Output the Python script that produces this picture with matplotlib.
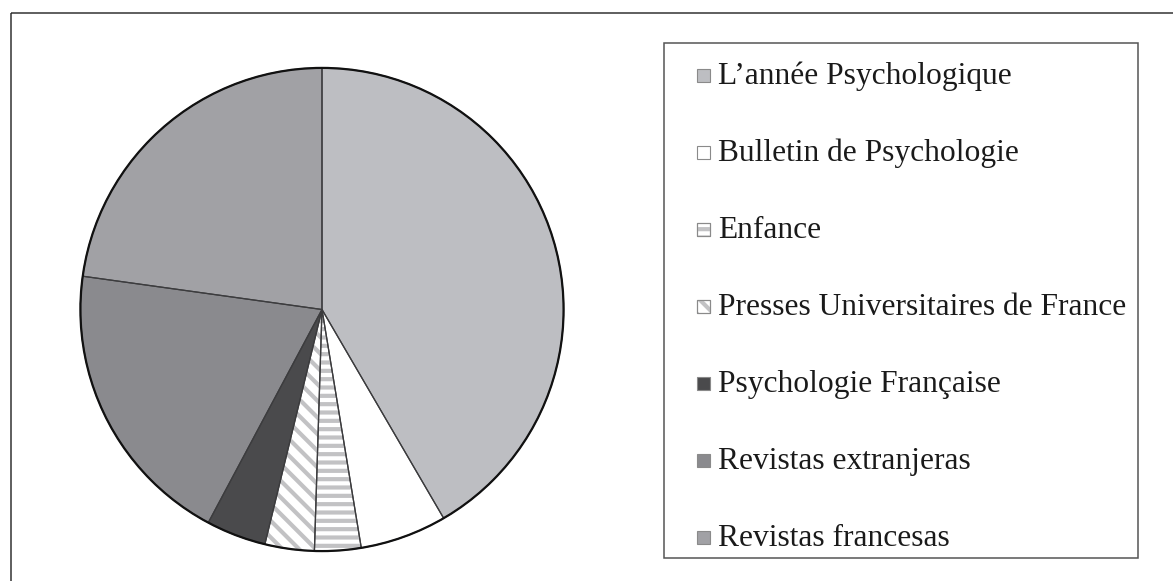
import matplotlib
matplotlib.use("Agg")
import matplotlib.pyplot as plt
from matplotlib.patches import Rectangle, Circle

labels = ["L\u2019année Psychologique", "Bulletin de Psychologie", "Enfance",
          "Presses Universitaires de France", "Psychologie Française",
          "Revistas extranjeras", "Revistas francesas"]
values = [41.6, 5.8, 3.1, 3.3, 4.0, 19.4, 22.8]
colors = ["#bdbec2", "#ffffff", "#ffffff", "#ffffff", "#4a4a4c", "#8a8a8e", "#a1a1a5"]
hatches = [None, None, "--", "\\\\", None, None, None]
hatch_gray = "#c2c2c4"

plt.rcParams["hatch.linewidth"] = 3.0
W, H = 1173, 581
fig = plt.figure(figsize=(W / 100, H / 100), dpi=100)
fig.patch.set_facecolor("white")

# pie axes (pixel geometry)
cx, cy, r = 322, 309.5, 244
ax = fig.add_axes([(cx - r) / W, (H - cy - r) / H, 2 * r / W, 2 * r / H])

wedges, _ = ax.pie(values, colors=colors, startangle=90, counterclock=False,
                   radius=1, center=(0, 0), frame=True,
                   wedgeprops=dict(edgecolor=hatch_gray, linewidth=0))
for w, h in zip(wedges, hatches):
    if h:
        w.set_hatch(h)
ax.pie(values, colors=["none"] * len(values), startangle=90, counterclock=False,
       radius=1, center=(0, 0), frame=True,
       wedgeprops=dict(edgecolor="#3c3c3e", linewidth=0.9, fill=False))
ax.add_patch(Circle((0, 0), 1, fill=False, edgecolor="#111111", linewidth=1.6))
ax.set_xlim(-1.01, 1.01)
ax.set_ylim(-1.01, 1.01)
ax.set_aspect("equal")
ax.axis("off")

# overlay axes in pixel coordinates for frame and legend
ov = fig.add_axes([0, 0, 1, 1], facecolor="none")
ov.set_xlim(0, W)
ov.set_ylim(H, 0)
ov.axis("off")

# outer frame (extends past right and bottom edges)
ov.add_patch(Rectangle((11, 13), W + 20, H + 20, fill=False,
                       edgecolor="#333333", linewidth=1.1, clip_on=False))

# legend box
ov.add_patch(Rectangle((664, 43), 1138 - 664, 558 - 43, fill=False,
                       edgecolor="#555555", linewidth=1.1))
y0, dy = 75.5, 77.0
for i, (lab, col, h) in enumerate(zip(labels, colors, hatches)):
    y = y0 + i * dy
    ov.add_patch(Rectangle((697, y - 6.5), 13, 13, facecolor=col,
                           edgecolor="#8a8a8a", linewidth=0.8))
    if h:
        ov.add_patch(Rectangle((697, y - 6.5), 13, 13, facecolor="none",
                               edgecolor=hatch_gray, linewidth=0, hatch=h))
        ov.add_patch(Rectangle((697, y - 6.5), 13, 13, fill=False,
                               edgecolor="#8a8a8a", linewidth=0.8))
    ov.text(718, y + 1, lab, fontsize=22.7, family="Liberation Serif",
            color="#1a1a1a", va="center", ha="left")

fig.savefig("out.png", dpi=100)
